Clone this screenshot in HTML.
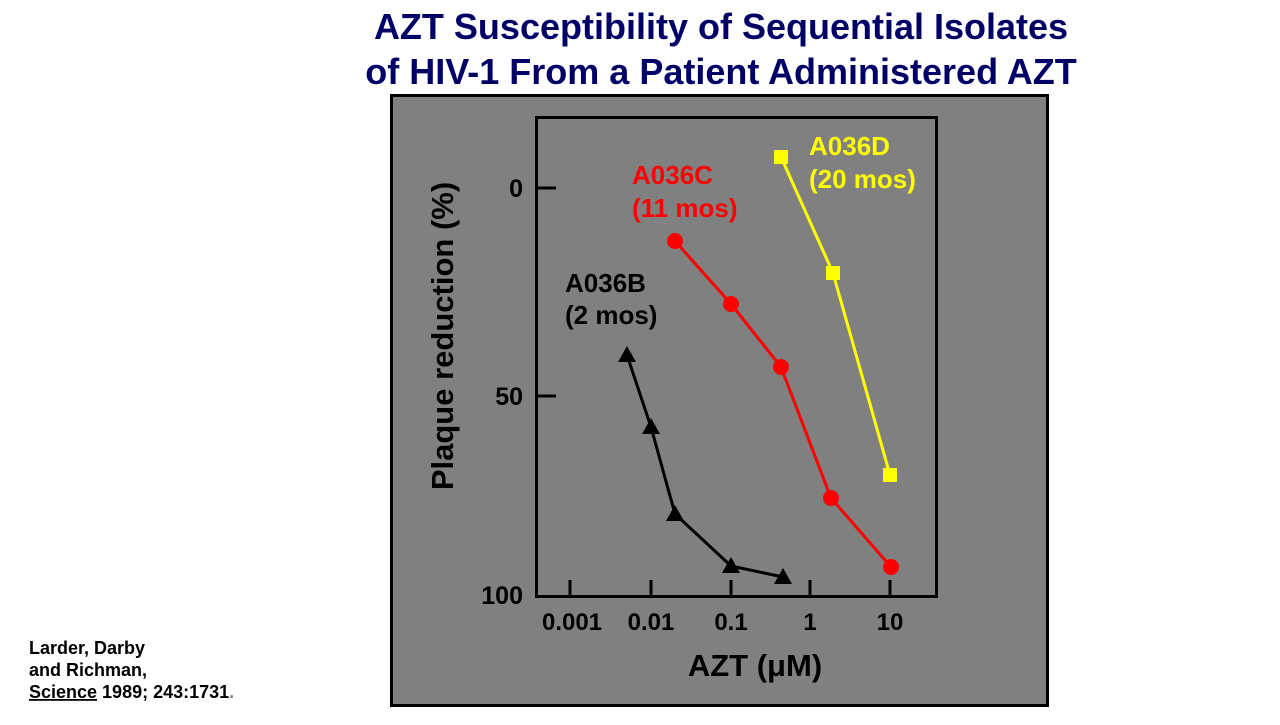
<!DOCTYPE html>
<html><head><meta charset="utf-8"><style>
body{margin:0;width:1280px;height:720px;background:#fff;overflow:hidden;font-family:"Liberation Sans",Arial,sans-serif;}
</style></head><body>
<svg width="1280" height="720" viewBox="0 0 1280 720" xmlns="http://www.w3.org/2000/svg" font-family="Liberation Sans, Arial, sans-serif" font-weight="bold">
<text x="721" y="39" font-size="36" fill="#000066" text-anchor="middle">AZT Susceptibility of Sequential Isolates</text>
<text x="721" y="84" font-size="36" fill="#000066" text-anchor="middle">of HIV-1 From a Patient Administered AZT</text>
<rect x="391.5" y="95.5" width="656" height="610" fill="#808080" stroke="#000" stroke-width="3"/>
<rect x="536.5" y="117.5" width="400" height="479" fill="none" stroke="#000" stroke-width="3"/>
<g stroke="#000" stroke-width="3">
<line x1="536" y1="188" x2="556" y2="188"/><line x1="536" y1="396" x2="556" y2="396"/>
<line x1="570" y1="596" x2="570" y2="580"/><line x1="651" y1="596" x2="651" y2="580"/>
<line x1="731" y1="596" x2="731" y2="580"/><line x1="810" y1="596" x2="810" y2="580"/>
<line x1="890" y1="596" x2="890" y2="580"/>
</g>
<g font-size="25" fill="#000" text-anchor="end">
<text x="523" y="197">0</text><text x="523" y="405">50</text><text x="523" y="604">100</text>
</g>
<g font-size="24" fill="#000" text-anchor="middle">
<text x="572" y="630">0.001</text><text x="651" y="630">0.01</text><text x="731" y="630">0.1</text>
<text x="810" y="630">1</text><text x="890" y="630">10</text>
<text x="755" y="676" font-size="31">AZT (μM)</text>
</g>
<text transform="translate(453,336) rotate(-90)" font-size="31" text-anchor="middle" fill="#000">Plaque reduction (%)</text>
<polyline points="627,355 651,427 675,514 731,566 783,577" fill="none" stroke="#000" stroke-width="3"/>
<g fill="#000">
<polygon points="627,346 636,362 618,362"/><polygon points="651,418 660,434 642,434"/>
<polygon points="675,505 684,521 666,521"/><polygon points="731,557 740,573 722,573"/>
<polygon points="783,568 792,584 774,584"/>
</g>
<polyline points="675,241 731,304 781,367 831,498 891,567" fill="none" stroke="#ff0000" stroke-width="3"/>
<g fill="#ff0000">
<circle cx="675" cy="241" r="8"/><circle cx="731" cy="304" r="8"/><circle cx="781" cy="367" r="8"/>
<circle cx="831" cy="498" r="8"/><circle cx="891" cy="567" r="8"/>
</g>
<polyline points="781,157 833,273 890,475" fill="none" stroke="#ffff00" stroke-width="3"/>
<g fill="#ffff00">
<rect x="774" y="150" width="14" height="14"/><rect x="826" y="266" width="14" height="14"/><rect x="883" y="468" width="14" height="14"/>
</g>
<g font-size="26">
<text x="632" y="184" fill="#ff0000">A036C</text><text x="632" y="217" fill="#ff0000">(11 mos)</text>
<text x="809" y="155" fill="#ffff00">A036D</text><text x="809" y="188" fill="#ffff00">(20 mos)</text>
<text x="565" y="292" fill="#000">A036B</text><text x="565" y="324" fill="#000">(2 mos)</text>
</g>
<g font-size="18" fill="#000">
<text x="29" y="654">Larder, Darby</text>
<text x="29" y="676">and Richman,</text>
<text x="29" y="698"><tspan text-decoration="underline">Science</tspan> 1989; 243:1731<tspan fill="#808080">.</tspan></text>
</g>
</svg>
</body></html>
